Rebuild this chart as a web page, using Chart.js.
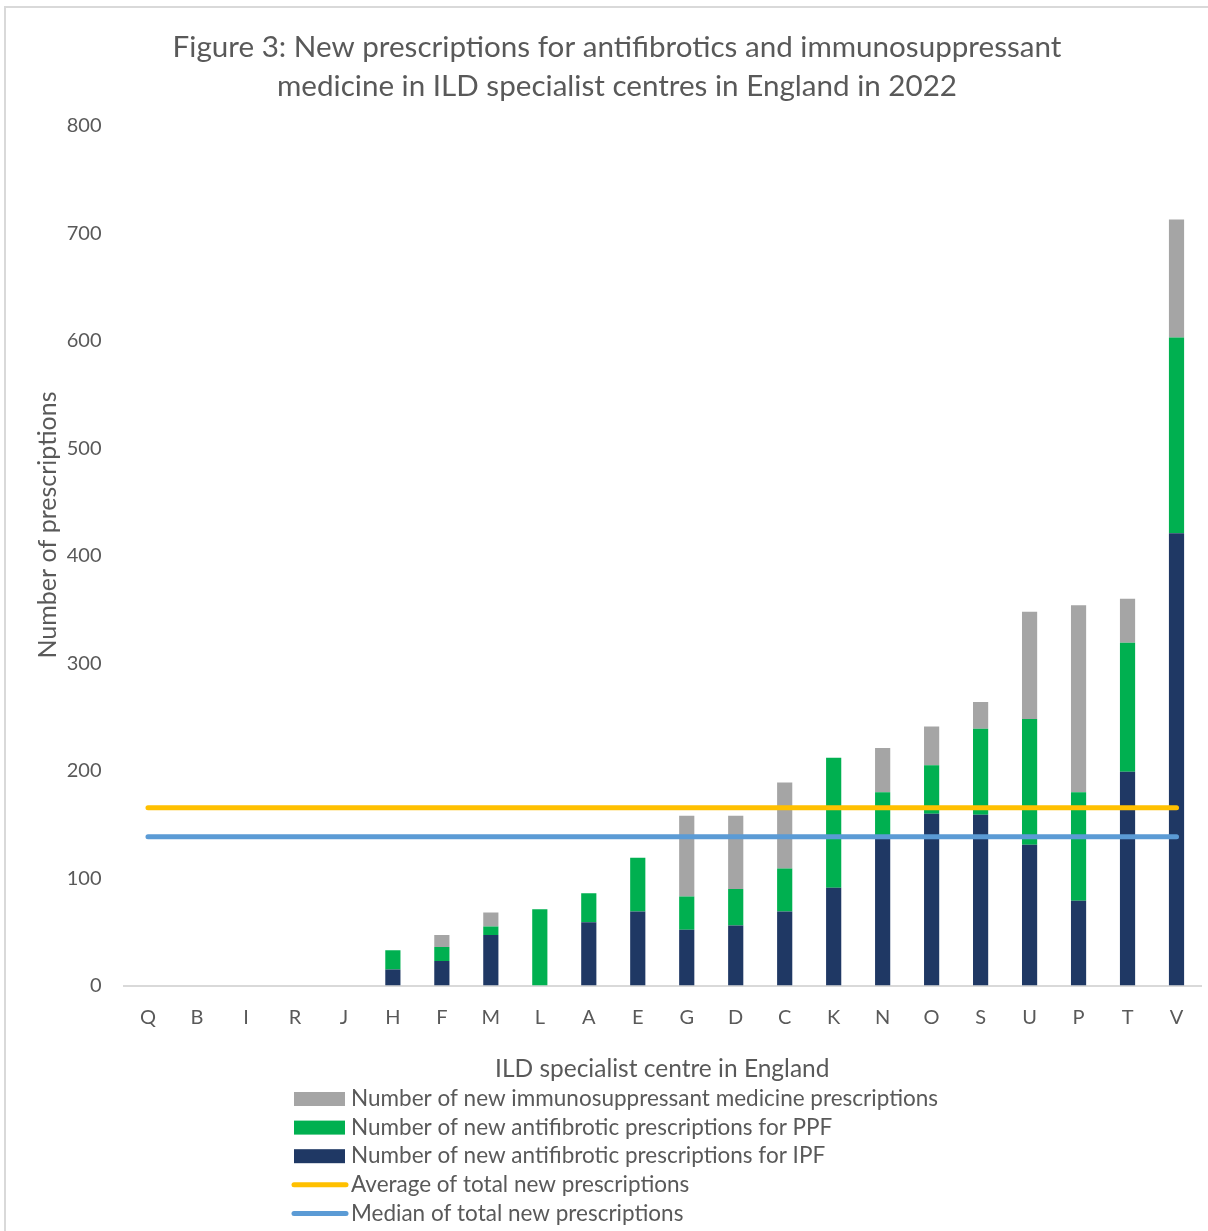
<!DOCTYPE html>
<html>
<head>
<meta charset="utf-8">
<script src="https://cdn.jsdelivr.net/npm/chart.js@4"></script>
<style>
  html, body { margin: 0; padding: 0; background: #fff; }
  #wrap { position: absolute; left: 0; top: 0; width: 1208px; height: 1231px; }
  #frame { position: absolute; left: 4px; top: 6px; width: 1300px; height: 1300px;
           border-top: 2px solid #d9d9d9; border-left: 2px solid #d9d9d9; }
  canvas { position: absolute; left: 0; top: 0; }
</style>
</head>
<body>
<div id="wrap">
  <div id="frame"></div>
  <canvas id="chart" width="1208" height="1231"></canvas>
</div>
<script>
// ILD specialist centres, ordered by total new prescriptions
const centres = ['Q','B','I','R','J','H','F','M','L','A','E','G','D','C','K','N','O','S','U','P','T','V'];

// New antifibrotic prescriptions for IPF
const ipf = [0,0,0,0,0,15,23,47,0,59,69,52,56,69,91,139,160,159,131,79,199,421];
// New antifibrotic prescriptions for PPF
const ppf = [0,0,0,0,0,18,13,8,71,27,50,31,34,40,121,41,45,80,117,101,120,182];
// New immunosuppressant medicine prescriptions
const immuno = [0,0,0,0,0,0,11,13,0,0,0,75,68,80,0,41,36,25,100,174,41,110];

// Summary statistics of total new prescriptions per centre
const averageTotal = 165.5;
const medianTotal = 138.5;

const yTicks = [0,100,200,300,400,500,600,700,800];

const TEXT = '#595959';
const FONT = 'Lato, "Open Sans", sans-serif';
const Y_TITLE = 'Number of prescriptions';

const legendEntries = [
  { label: 'Number of new immunosuppressant medicine prescriptions', color: '#a5a5a5', kind: 'box' },
  { label: 'Number of new antifibrotic prescriptions for PPF', color: '#00b050', kind: 'box' },
  { label: 'Number of new antifibrotic prescriptions for IPF', color: '#1f3864', kind: 'box' },
  { label: 'Average of total new prescriptions', color: '#ffc000', kind: 'line' },
  { label: 'Median of total new prescriptions', color: '#5b9bd5', kind: 'line' }
];

// Legend listed one entry per row under the axis title, plus the value axis title
const annotations = {
  id: 'annotations',
  afterDraw(chart) {
    const ctx = chart.ctx;
    ctx.save();
    ctx.font = '22.5px ' + FONT;
    ctx.textBaseline = 'middle';
    ctx.textAlign = 'left';
    const x0 = 293, y0 = 1099, step = 28.6;
    legendEntries.forEach((e, i) => {
      const y = y0 + i * step;
      if (e.kind === 'box') {
        ctx.fillStyle = e.color;
        ctx.fillRect(x0 + 1, y - 7, 51, 14);
      } else {
        ctx.strokeStyle = e.color;
        ctx.lineWidth = 5;
        ctx.lineCap = 'round';
        ctx.beginPath();
        ctx.moveTo(x0 + 1, y);
        ctx.lineTo(x0 + 53, y);
        ctx.stroke();
      }
      ctx.fillStyle = TEXT;
      ctx.fillText(e.label, x0 + 58, y);
    });

    // value axis title, rotated
    ctx.font = '25px ' + FONT;
    ctx.textAlign = 'center';
    ctx.translate(48, 525);
    ctx.rotate(-Math.PI / 2);
    ctx.fillStyle = TEXT;
    ctx.fillText(Y_TITLE, 0, 0);
    ctx.restore();
  }
};

const barCommon = { stack: 'total', barPercentage: 0.31, categoryPercentage: 1.0, order: 2, borderWidth: 0 };

new Chart(document.getElementById('chart'), {
  type: 'bar',
  data: {
    labels: centres,
    datasets: [
      Object.assign({ label: 'Number of new antifibrotic prescriptions for IPF', data: ipf, backgroundColor: '#1f3864' }, barCommon),
      Object.assign({ label: 'Number of new antifibrotic prescriptions for PPF', data: ppf, backgroundColor: '#00b050' }, barCommon),
      Object.assign({ label: 'Number of new immunosuppressant medicine prescriptions', data: immuno, backgroundColor: '#a5a5a5' }, barCommon),
      {
        type: 'line', label: 'Average of total new prescriptions',
        data: centres.map(() => averageTotal),
        borderColor: '#ffc000', backgroundColor: '#ffc000', borderWidth: 5,
        borderCapStyle: 'round', pointRadius: 0, order: 1, stack: 'avg'
      },
      {
        type: 'line', label: 'Median of total new prescriptions',
        data: centres.map(() => medianTotal),
        borderColor: '#5b9bd5', backgroundColor: '#5b9bd5', borderWidth: 5,
        borderCapStyle: 'round', pointRadius: 0, order: 0, stack: 'median'
      }
    ]
  },
  options: {
    responsive: false,
    animation: false,
    layout: { padding: { left: 33, right: 7, top: 0, bottom: 147 } },
    plugins: {
      legend: { display: false },
      tooltip: { enabled: false },
      title: {
        display: true,
        text: ['Figure 3: New prescriptions for antifibrotics and immunosuppressant',
               'medicine in ILD specialist centres in England in 2022'],
        color: TEXT,
        font: { family: FONT, size: 29.6, weight: 'normal', lineHeight: 1.35 },
        padding: { top: 27, bottom: 19 }
      }
    },
    scales: {
      x: {
        stacked: true,
        grid: { display: false, drawTicks: false },
        border: { display: true, color: '#d9d9d9', width: 2 },
        ticks: { color: TEXT, font: { family: FONT, size: 20 }, padding: 20 },
        title: {
          display: true, text: 'ILD specialist centre in England', color: TEXT,
          font: { family: FONT, size: 24.5 }, padding: { top: 5, bottom: 0 }
        }
      },
      y: {
        stacked: true,
        min: 0, max: 800,
        afterBuildTicks(axis) { axis.ticks = yTicks.map(v => ({ value: v })); },
        afterFit(axis) { axis.width = 90.5; },
        grid: { display: false, drawTicks: false },
        border: { display: false },
        ticks: { color: TEXT, font: { family: FONT, size: 20 }, padding: 22 },
        title: { display: false }
      }
    }
  },
  plugins: [annotations]
});
</script>
</body>
</html>
